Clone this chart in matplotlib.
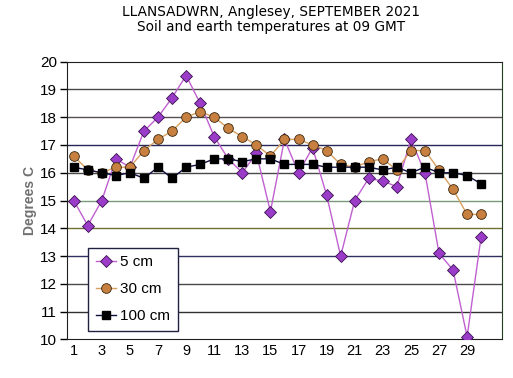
import matplotlib
matplotlib.use('Agg')
import matplotlib.pyplot as plt
import numpy as np

days = list(range(1, 31))

t5cm = [15.0, 14.1, 15.0, 16.5, 16.2, 17.5, 18.0, 18.7, 19.5, 18.5,
        17.3, 16.5, 16.0, 16.7, 14.6, 17.2, 16.0, 16.9, 15.2, 13.0,
        15.0, 15.8, 15.7, 15.5, 17.2, 16.0, 13.1, 12.5, 10.1, 13.7]
t30cm = [16.6, 16.1, 16.0, 16.2, 16.2, 16.8, 17.2, 17.5, 18.0, 18.2,
         18.0, 17.6, 17.3, 17.0, 16.6, 17.2, 17.2, 17.0, 16.8, 16.3,
         16.2, 16.4, 16.5, 16.1, 16.8, 16.8, 16.1, 15.4, 14.5, 14.5]
t100cm = [16.2, 16.1, 16.0, 15.9, 16.0, 15.8, 16.2, 15.8, 16.2, 16.3,
          16.5, 16.5, 16.4, 16.5, 16.5, 16.3, 16.3, 16.3, 16.2, 16.2,
          16.2, 16.2, 16.1, 16.2, 16.0, 16.2, 16.0, 16.0, 15.9, 15.6]

y_ticks = list(range(10, 21))
x_ticks = list(range(1, 30, 2))

# gridline colours as they appear in the original (Excel-style)
grid_colours = {11: '#303030', 12: '#484848', 13: '#303060', 14: '#707030',
                15: '#7a9a7a', 16: '#484848', 17: '#282858', 18: '#585050',
                19: '#484848'}

plt.rcParams['font.family'] = ['Liberation Sans', 'DejaVu Sans']

fig = plt.figure(figsize=(5.13, 3.78), dpi=100)
ax = fig.add_axes([0.130, 0.102, 0.849, 0.735])

for level, col in grid_colours.items():
    ax.axhline(level, color=col, linewidth=1.0, zorder=1)

ax.plot(days, t5cm, color='#c060d0', linewidth=1.0, marker='D',
        markersize=6.5, markerfacecolor='#9a3cc8', markeredgecolor='#3a1050',
        markeredgewidth=0.6, label='5 cm', zorder=3)
ax.plot(days, t30cm, color='#d8a060', linewidth=1.0, marker='o',
        markersize=7, markerfacecolor='#c88040', markeredgecolor='#3a2810',
        markeredgewidth=0.6, label='30 cm', zorder=4)
ax.plot(days, t100cm, color='#101040', linewidth=1.0, marker='s',
        markersize=6, markerfacecolor='black', markeredgecolor='black',
        label='100 cm', zorder=5)

ax.set_xlim(0.5, 31.5)
ax.set_ylim(10, 20)
ax.set_yticks(y_ticks)
ax.set_xticks(x_ticks)
ax.tick_params(axis='y', labelsize=11, length=5, width=1, pad=2)
ax.tick_params(axis='x', labelsize=10.5, length=0, pad=3)
ax.set_ylabel('Degrees C', fontsize=10, fontweight='bold', color='#707070',
              labelpad=2)

for side in ['left', 'bottom', 'top']:
    ax.spines[side].set_color('#202020')
ax.spines['right'].set_color('#204020')

fig.suptitle('LLANSADWRN, Anglesey, SEPTEMBER 2021\nSoil and earth temperatures at 09 GMT',
             fontsize=9.8, x=0.528, y=0.988, family='DejaVu Sans',
             linespacing=1.15)

leg = ax.legend(loc='lower left', bbox_to_anchor=(0.049, 0.03), fontsize=11,
                frameon=True, fancybox=False, handlelength=1.3,
                handletextpad=0.3, borderpad=0.5, labelspacing=0.85,
                borderaxespad=0)
leg.get_frame().set_edgecolor('#202040')
leg.get_frame().set_linewidth(1.0)
leg.get_frame().set_alpha(1.0)
leg.set_zorder(10)

fig.savefig('out.png', dpi=100)
